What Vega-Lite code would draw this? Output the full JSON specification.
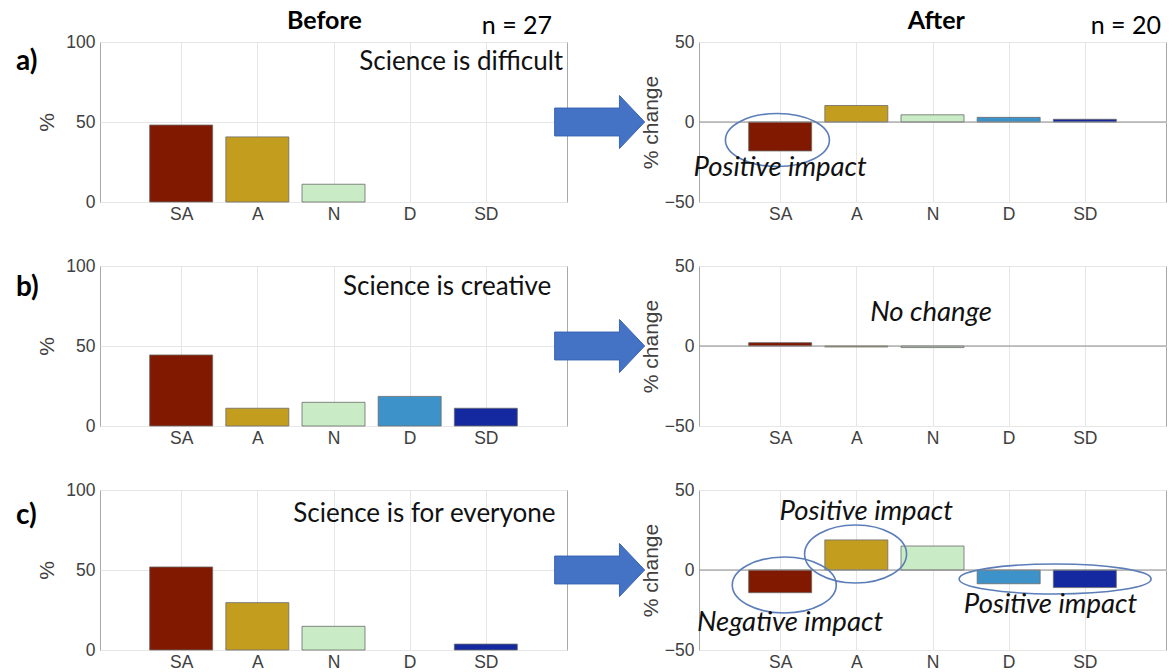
{
  "$schema": "https://vega.github.io/schema/vega-lite/v6.json",
  "padding": {"left": 15, "top": 8, "right": 0, "bottom": 0},
  "background": "white",
  "config": {
    "view": {"stroke": "#a8a8a8", "strokeWidth": 1},
    "font": "Lato",
    "axis": {"labelFont": "Liberation Sans", "labelFontSize": 17.5, "labelColor": "#404040", "titleFont": "Liberation Sans", "titleFontSize": 21, "titleFontWeight": "normal", "titleColor": "#404040", "domain": false, "ticks": false, "gridColor": "#e6e6e6"},
    "axisX": {"labelPadding": 3},
    "axisY": {"labelPadding": 5}
  },
  "datasets": {
    "survey": [
      {"row": "a", "stage": "before", "cat": "SA", "pos": 1, "value": 48.1},
      {"row": "a", "stage": "before", "cat": "A", "pos": 2, "value": 40.7},
      {"row": "a", "stage": "before", "cat": "N", "pos": 3, "value": 11.1},
      {"row": "a", "stage": "before", "cat": "D", "pos": 4, "value": 0},
      {"row": "a", "stage": "before", "cat": "SD", "pos": 5, "value": 0},
      {"row": "b", "stage": "before", "cat": "SA", "pos": 1, "value": 44.4},
      {"row": "b", "stage": "before", "cat": "A", "pos": 2, "value": 11.1},
      {"row": "b", "stage": "before", "cat": "N", "pos": 3, "value": 14.8},
      {"row": "b", "stage": "before", "cat": "D", "pos": 4, "value": 18.5},
      {"row": "b", "stage": "before", "cat": "SD", "pos": 5, "value": 11.1},
      {"row": "c", "stage": "before", "cat": "SA", "pos": 1, "value": 51.9},
      {"row": "c", "stage": "before", "cat": "A", "pos": 2, "value": 29.6},
      {"row": "c", "stage": "before", "cat": "N", "pos": 3, "value": 14.8},
      {"row": "c", "stage": "before", "cat": "D", "pos": 4, "value": 0},
      {"row": "c", "stage": "before", "cat": "SD", "pos": 5, "value": 3.7},
      {"row": "a", "stage": "after", "cat": "SA", "pos": 1, "value": -18.1},
      {"row": "a", "stage": "after", "cat": "A", "pos": 2, "value": 10.3},
      {"row": "a", "stage": "after", "cat": "N", "pos": 3, "value": 4.5},
      {"row": "a", "stage": "after", "cat": "D", "pos": 4, "value": 2.9},
      {"row": "a", "stage": "after", "cat": "SD", "pos": 5, "value": 1.7},
      {"row": "b", "stage": "after", "cat": "SA", "pos": 1, "value": 2.1},
      {"row": "b", "stage": "after", "cat": "A", "pos": 2, "value": -0.6},
      {"row": "b", "stage": "after", "cat": "N", "pos": 3, "value": -1.0},
      {"row": "b", "stage": "after", "cat": "D", "pos": 4, "value": 0},
      {"row": "b", "stage": "after", "cat": "SD", "pos": 5, "value": 0},
      {"row": "c", "stage": "after", "cat": "SA", "pos": 1, "value": -14.2},
      {"row": "c", "stage": "after", "cat": "A", "pos": 2, "value": 18.8},
      {"row": "c", "stage": "after", "cat": "N", "pos": 3, "value": 15.0},
      {"row": "c", "stage": "after", "cat": "D", "pos": 4, "value": -8.6},
      {"row": "c", "stage": "after", "cat": "SD", "pos": 5, "value": -11.0}
    ]
  },
  "columns": 2,
  "spacing": {"row": 64, "column": 132},
  "bounds": "flush",
  "concat": [
    {
      "width": 467, "height": 160,
      "data": {"name": "survey"},
      "layer": [
        {
          "transform": [{"filter": "datum.row === 'a' && datum.stage === 'before' && datum.value !== 0"}],
          "mark": {"type": "bar", "width": 63, "stroke": "#6b6b6b", "strokeWidth": 0.8},
          "encoding": {
            "x": {"field": "pos", "type": "quantitative", "scale": {"domain": [0, 6], "nice": false, "zero": false}, "axis": {"values": [1, 2, 3, 4, 5], "labelExpr": "['','SA','A','N','D','SD'][datum.value]", "title": null, "grid": true}},
            "y": {"field": "value", "type": "quantitative", "scale": {"domain": [0, 100], "nice": false}, "axis": {"values": [0, 50, 100], "title": "%", "grid": true, "titlePadding": 8}},
            "y2": {"datum": 0},
            "color": {"field": "cat", "type": "nominal", "scale": {"domain": ["SA", "A", "N", "D", "SD"], "range": ["#801900", "#C29D1E", "#C9EBC5", "#3D93C9", "#1429A0"]}, "legend": null}
          }
        },
        {"data": {"values": [{}]}, "mark": {"type": "text", "text": "Science is difficult", "align": "right", "baseline": "middle", "fontSize": 26, "color": "#111111"}, "encoding": {"x": {"datum": 6.015}, "y": {"datum": 87.5}}},
        {"data": {"values": [{}]}, "mark": {"type": "text", "text": "a)", "align": "left", "baseline": "middle", "fontSize": 28, "fontWeight": "bold", "color": "#000000"}, "encoding": {"x": {"datum": -1.169}, "y": {"datum": 87.5}}},
        {"data": {"values": [{}]}, "mark": {"type": "text", "text": "Before", "align": "center", "baseline": "middle", "fontSize": 25, "fontWeight": "bold", "color": "#000000"}, "encoding": {"x": {"datum": 2.88}, "y": {"datum": 113}}},
        {"data": {"values": [{}]}, "mark": {"type": "text", "text": "n = 27", "align": "right", "baseline": "middle", "fontSize": 25, "color": "#000000"}, "encoding": {"x": {"datum": 5.87}, "y": {"datum": 110}}}
      ]
    },
    {
      "width": 467, "height": 160,
      "data": {"name": "survey"},
      "layer": [
        {
          "transform": [{"filter": "datum.row === 'a' && datum.stage === 'after' && datum.value !== 0"}],
          "mark": {"type": "bar", "width": 63, "stroke": "#6b6b6b", "strokeWidth": 0.8},
          "encoding": {
            "x": {"field": "pos", "type": "quantitative", "scale": {"domain": [0, 6], "nice": false, "zero": false}, "axis": {"values": [1, 2, 3, 4, 5], "labelExpr": "['','SA','A','N','D','SD'][datum.value]", "title": null, "grid": true}},
            "y": {"field": "value", "type": "quantitative", "scale": {"domain": [-50, 50], "nice": false}, "axis": {"values": [-50, 0, 50], "title": "% change", "grid": true, "titlePadding": 3}},
            "y2": {"datum": 0},
            "color": {"field": "cat", "type": "nominal", "scale": {"domain": ["SA", "A", "N", "D", "SD"], "range": ["#801900", "#C29D1E", "#C9EBC5", "#3D93C9", "#1429A0"]}, "legend": null}
          }
        },
        {"data": {"values": [{}]}, "mark": {"type": "rule", "color": "#8c8c8c", "strokeWidth": 1}, "encoding": {"y": {"datum": 0}}},
        {"data": {"values": [{}]}, "mark": {"type": "point", "shape": "M1,0C1,0.282,0.552,0.51,0,0.51C-0.552,0.51,-1,0.282,-1,0C-1,-0.282,-0.552,-0.51,0,-0.51C0.552,-0.51,1,-0.282,1,0Z", "size": 10816, "filled": false, "color": "#5B7DB8", "strokeWidth": 1.6, "opacity": 1}, "encoding": {"x": {"datum": 0.964}, "y": {"datum": -11.25}}},
        {"data": {"values": [{}]}, "mark": {"type": "text", "text": "Positive impact", "align": "center", "baseline": "middle", "fontSize": 27.5, "fontStyle": "italic", "color": "#111111"}, "encoding": {"x": {"datum": 1.0}, "y": {"datum": -28.75}}},
        {"data": {"values": [{}]}, "mark": {"type": "text", "text": "After", "align": "center", "baseline": "middle", "fontSize": 25, "fontWeight": "bold", "color": "#000000"}, "encoding": {"x": {"datum": 3.05}, "y": {"datum": 63}}},
        {"data": {"values": [{}]}, "mark": {"type": "text", "text": "n = 20", "align": "right", "baseline": "middle", "fontSize": 25, "color": "#000000"}, "encoding": {"x": {"datum": 6.0}, "y": {"datum": 60}}},
        {"data": {"values": [{}]}, "mark": {"type": "point", "shape": "M-1,-0.31L0.44,-0.31L0.44,-0.59L1,0L0.44,0.59L0.44,0.31L-1,0.31Z", "size": 8100, "filled": true, "fill": "#4472C4", "stroke": "#3A64B0", "strokeWidth": 1, "opacity": 1}, "encoding": {"x": {"datum": -1.37}, "y": {"datum": 0}}}
      ]
    },
    {
      "width": 467, "height": 160,
      "data": {"name": "survey"},
      "layer": [
        {
          "transform": [{"filter": "datum.row === 'b' && datum.stage === 'before' && datum.value !== 0"}],
          "mark": {"type": "bar", "width": 63, "stroke": "#6b6b6b", "strokeWidth": 0.8},
          "encoding": {
            "x": {"field": "pos", "type": "quantitative", "scale": {"domain": [0, 6], "nice": false, "zero": false}, "axis": {"values": [1, 2, 3, 4, 5], "labelExpr": "['','SA','A','N','D','SD'][datum.value]", "title": null, "grid": true}},
            "y": {"field": "value", "type": "quantitative", "scale": {"domain": [0, 100], "nice": false}, "axis": {"values": [0, 50, 100], "title": "%", "grid": true, "titlePadding": 8}},
            "y2": {"datum": 0},
            "color": {"field": "cat", "type": "nominal", "scale": {"domain": ["SA", "A", "N", "D", "SD"], "range": ["#801900", "#C29D1E", "#C9EBC5", "#3D93C9", "#1429A0"]}, "legend": null}
          }
        },
        {"data": {"values": [{}]}, "mark": {"type": "text", "text": "Science is creative", "align": "right", "baseline": "middle", "fontSize": 26, "color": "#111111"}, "encoding": {"x": {"datum": 5.86}, "y": {"datum": 86.9}}},
        {"data": {"values": [{}]}, "mark": {"type": "text", "text": "b)", "align": "left", "baseline": "middle", "fontSize": 28, "fontWeight": "bold", "color": "#000000"}, "encoding": {"x": {"datum": -1.169}, "y": {"datum": 86.25}}}
      ]
    },
    {
      "width": 467, "height": 160,
      "data": {"name": "survey"},
      "layer": [
        {
          "transform": [{"filter": "datum.row === 'b' && datum.stage === 'after' && datum.value !== 0"}],
          "mark": {"type": "bar", "width": 63, "stroke": "#6b6b6b", "strokeWidth": 0.8},
          "encoding": {
            "x": {"field": "pos", "type": "quantitative", "scale": {"domain": [0, 6], "nice": false, "zero": false}, "axis": {"values": [1, 2, 3, 4, 5], "labelExpr": "['','SA','A','N','D','SD'][datum.value]", "title": null, "grid": true}},
            "y": {"field": "value", "type": "quantitative", "scale": {"domain": [-50, 50], "nice": false}, "axis": {"values": [-50, 0, 50], "title": "% change", "grid": true, "titlePadding": 3}},
            "y2": {"datum": 0},
            "color": {"field": "cat", "type": "nominal", "scale": {"domain": ["SA", "A", "N", "D", "SD"], "range": ["#801900", "#C29D1E", "#C9EBC5", "#3D93C9", "#1429A0"]}, "legend": null}
          }
        },
        {"data": {"values": [{}]}, "mark": {"type": "rule", "color": "#8c8c8c", "strokeWidth": 1}, "encoding": {"y": {"datum": 0}}},
        {"data": {"values": [{}]}, "mark": {"type": "text", "text": "No change", "align": "center", "baseline": "middle", "fontSize": 27.5, "fontStyle": "italic", "color": "#111111"}, "encoding": {"x": {"datum": 2.98}, "y": {"datum": 20.6}}},
        {"data": {"values": [{}]}, "mark": {"type": "point", "shape": "M-1,-0.31L0.44,-0.31L0.44,-0.59L1,0L0.44,0.59L0.44,0.31L-1,0.31Z", "size": 8100, "filled": true, "fill": "#4472C4", "stroke": "#3A64B0", "strokeWidth": 1, "opacity": 1}, "encoding": {"x": {"datum": -1.37}, "y": {"datum": 0}}}
      ]
    },
    {
      "width": 467, "height": 160,
      "data": {"name": "survey"},
      "layer": [
        {
          "transform": [{"filter": "datum.row === 'c' && datum.stage === 'before' && datum.value !== 0"}],
          "mark": {"type": "bar", "width": 63, "stroke": "#6b6b6b", "strokeWidth": 0.8},
          "encoding": {
            "x": {"field": "pos", "type": "quantitative", "scale": {"domain": [0, 6], "nice": false, "zero": false}, "axis": {"values": [1, 2, 3, 4, 5], "labelExpr": "['','SA','A','N','D','SD'][datum.value]", "title": null, "grid": true}},
            "y": {"field": "value", "type": "quantitative", "scale": {"domain": [0, 100], "nice": false}, "axis": {"values": [0, 50, 100], "title": "%", "grid": true, "titlePadding": 8}},
            "y2": {"datum": 0},
            "color": {"field": "cat", "type": "nominal", "scale": {"domain": ["SA", "A", "N", "D", "SD"], "range": ["#801900", "#C29D1E", "#C9EBC5", "#3D93C9", "#1429A0"]}, "legend": null}
          }
        },
        {"data": {"values": [{}]}, "mark": {"type": "text", "text": "Science is for everyone", "align": "right", "baseline": "middle", "fontSize": 26, "color": "#111111"}, "encoding": {"x": {"datum": 5.916}, "y": {"datum": 85}}},
        {"data": {"values": [{}]}, "mark": {"type": "text", "text": "c)", "align": "left", "baseline": "middle", "fontSize": 28, "fontWeight": "bold", "color": "#000000"}, "encoding": {"x": {"datum": -1.169}, "y": {"datum": 83.75}}}
      ]
    },
    {
      "width": 467, "height": 160,
      "data": {"name": "survey"},
      "layer": [
        {
          "transform": [{"filter": "datum.row === 'c' && datum.stage === 'after' && datum.value !== 0"}],
          "mark": {"type": "bar", "width": 63, "stroke": "#6b6b6b", "strokeWidth": 0.8},
          "encoding": {
            "x": {"field": "pos", "type": "quantitative", "scale": {"domain": [0, 6], "nice": false, "zero": false}, "axis": {"values": [1, 2, 3, 4, 5], "labelExpr": "['','SA','A','N','D','SD'][datum.value]", "title": null, "grid": true}},
            "y": {"field": "value", "type": "quantitative", "scale": {"domain": [-50, 50], "nice": false}, "axis": {"values": [-50, 0, 50], "title": "% change", "grid": true, "titlePadding": 3}},
            "y2": {"datum": 0},
            "color": {"field": "cat", "type": "nominal", "scale": {"domain": ["SA", "A", "N", "D", "SD"], "range": ["#801900", "#C29D1E", "#C9EBC5", "#3D93C9", "#1429A0"]}, "legend": null}
          }
        },
        {"data": {"values": [{}]}, "mark": {"type": "rule", "color": "#8c8c8c", "strokeWidth": 1}, "encoding": {"y": {"datum": 0}}},
        {"data": {"values": [{}]}, "mark": {"type": "point", "shape": "M1,0C1,0.297,0.552,0.538,0,0.538C-0.552,0.538,-1,0.297,-1,0C-1,-0.297,-0.552,-0.538,0,-0.538C0.552,-0.538,1,-0.297,1,0Z", "size": 10816, "filled": false, "color": "#5B7DB8", "strokeWidth": 1.6, "opacity": 1}, "encoding": {"x": {"datum": 1.054}, "y": {"datum": -9.4}}},
        {"data": {"values": [{}]}, "mark": {"type": "point", "shape": "M1,0C1,0.314,0.552,0.569,0,0.569C-0.552,0.569,-1,0.314,-1,0C-1,-0.314,-0.552,-0.569,0,-0.569C0.552,-0.569,1,-0.314,1,0Z", "size": 10404, "filled": false, "color": "#5B7DB8", "strokeWidth": 1.6, "opacity": 1}, "encoding": {"x": {"datum": 1.99}, "y": {"datum": 10}}},
        {"data": {"values": [{}]}, "mark": {"type": "point", "shape": "M1,0C1,0.086,0.552,0.156,0,0.156C-0.552,0.156,-1,0.086,-1,0C-1,-0.086,-0.552,-0.156,0,-0.156C0.552,-0.156,1,-0.086,1,0Z", "size": 36864, "filled": false, "color": "#5B7DB8", "strokeWidth": 1.6, "opacity": 1}, "encoding": {"x": {"datum": 4.61}, "y": {"datum": -5.6}}},
        {"data": {"values": [{}]}, "mark": {"type": "text", "text": "Positive impact", "align": "center", "baseline": "middle", "fontSize": 27.5, "fontStyle": "italic", "color": "#111111"}, "encoding": {"x": {"datum": 2.13}, "y": {"datum": 36.25}}},
        {"data": {"values": [{}]}, "mark": {"type": "text", "text": "Negative impact", "align": "center", "baseline": "middle", "fontSize": 27.5, "fontStyle": "italic", "color": "#111111"}, "encoding": {"x": {"datum": 1.13}, "y": {"datum": -33.1}}},
        {"data": {"values": [{}]}, "mark": {"type": "text", "text": "Positive impact", "align": "center", "baseline": "middle", "fontSize": 27.5, "fontStyle": "italic", "color": "#111111"}, "encoding": {"x": {"datum": 4.55}, "y": {"datum": -21.9}}},
        {"data": {"values": [{}]}, "mark": {"type": "point", "shape": "M-1,-0.31L0.44,-0.31L0.44,-0.59L1,0L0.44,0.59L0.44,0.31L-1,0.31Z", "size": 8100, "filled": true, "fill": "#4472C4", "stroke": "#3A64B0", "strokeWidth": 1, "opacity": 1}, "encoding": {"x": {"datum": -1.37}, "y": {"datum": 0}}}
      ]
    }
  ]
}
